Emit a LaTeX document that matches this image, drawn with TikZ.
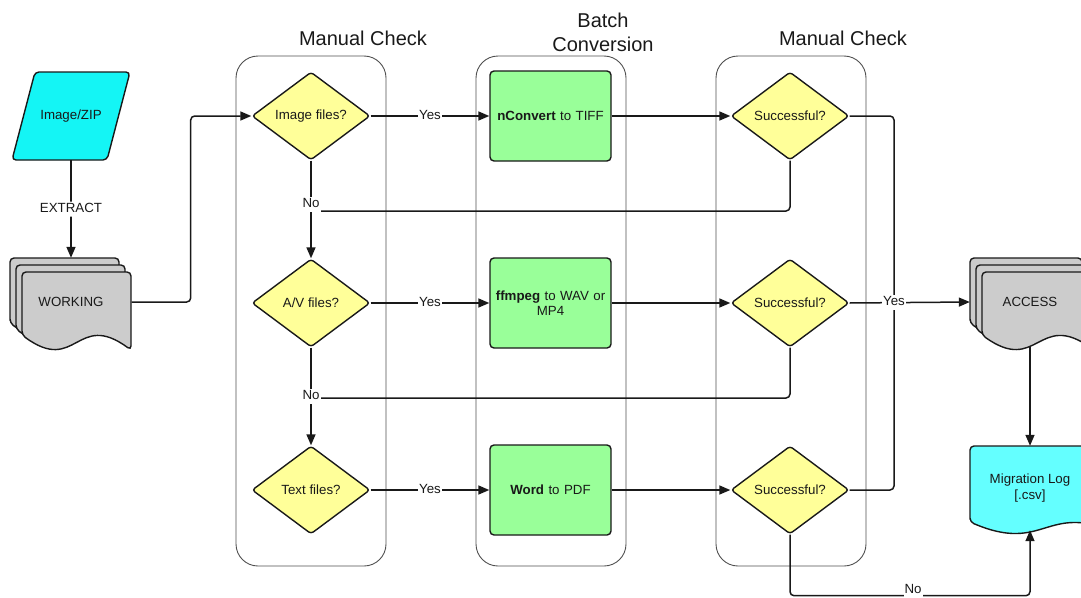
\documentclass[tikz,border=0pt]{standalone}
\usepackage{fontspec}
\setmainfont{Liberation Sans}
\usetikzlibrary{arrows.meta,shapes.geometric}
\definecolor{cyanA}{RGB}{20,245,245}
\definecolor{cyanB}{RGB}{100,255,255}
\definecolor{yel}{RGB}{255,255,153}
\definecolor{grn}{RGB}{153,255,153}
\definecolor{docgray}{RGB}{204,204,204}
\definecolor{lanegray}{RGB}{80,80,80}
\definecolor{ink}{RGB}{25,25,25}
% #1 x0, #2 y0, #3 width, #4 bottom-left y, #5 fill, #6 wave amplitude
\newcommand\docpage[6]{%
  \filldraw[shapeline, fill=#5] (#1,#4) -- (#1,#2) -- ({#1+#3},#2) -- ({#1+#3},{#4+#6})
    .. controls ({#1+0.5*#3},{#4-1.67*#6}) and ({#1+0.5*#3},{#4+2.67*#6}) .. (#1,#4) -- cycle;}
\begin{document}
\begin{tikzpicture}[x=1pt,y=-1pt, font=\fontsize{13.3}{15.5}\selectfont, text=ink,
  shapeline/.style={draw=ink, line width=1.4pt, rounded corners=4pt},
  dec/.style={shape=diamond, draw=ink, line width=1.4pt, fill=yel, minimum width=118pt,
    minimum height=88pt, inner sep=0pt, rounded corners=3pt},
  proc/.style={draw=ink, line width=1.4pt, fill=grn, minimum width=121pt, minimum height=90pt,
    rounded corners=4pt, align=center, text width=112pt},
  lane/.style={draw=lanegray, line width=0.9pt, rounded corners=22pt,
    minimum width=150pt, minimum height=510pt},
  title/.style={font=\fontsize{20}{24}\selectfont, align=center},
  holder/.style={inner sep=0pt, align=center},
  conn/.style={draw=ink, line width=1.5pt, rounded corners=4pt},
  arr/.style={conn, -{Triangle[length=11pt,width=9pt]}},
  lbl/.style={fill=white, inner sep=1pt, text height=10pt, text depth=3pt}]

\useasboundingbox (0,0) rectangle (1081,597);
\clip (0,0) rectangle (1081,597);

% lanes
\node[lane] (lane1) at (311,311) {};
\node[lane] (lane2) at (551,311) {};
\node[lane] (lane3) at (791,311) {};
\node[title] (t1) at (363,38) {Manual Check};
\node[title] (t2) at (603,32) {Batch\\Conversion};
\node[title] (t3) at (843,38) {Manual Check};

% input parallelogram
\filldraw[shapeline, fill=cyanA] (35,72) -- (130,72) -- (107,160) -- (12,160) -- cycle;
\node[holder, minimum width=60pt, minimum height=88pt] (img) at (71,116) {Image/ZIP};

% WORKING stack
\docpage{10}{258}{109}{323}{docgray}{15}
\docpage{16}{265}{109}{329}{docgray}{15}
\docpage{22}{272}{109}{335}{docgray}{15}
\node[holder, minimum width=121pt, minimum height=88pt] (working) at (71,302) {WORKING};

% ACCESS stack
\docpage{970}{258}{112}{323}{docgray}{15}
\docpage{976}{265}{112}{329}{docgray}{15}
\docpage{982}{272}{112}{335}{docgray}{15}
\node[holder, minimum width=120pt, minimum height=88pt] (access) at (1030,302) {ACCESS};

% Migration log
\docpage{970}{446}{150}{522}{cyanB}{12}
\node[holder, minimum width=120pt, minimum height=84pt] (mlog) at (1030,488) {Migration Log\\{}[.csv]};

% decisions
\node[dec] (q1) at (311,116) {Image files?};
\node[dec] (q2) at (311,303) {A/V files?};
\node[dec] (q3) at (311,490) {Text files?};
\node[dec] (s1) at (790,116) {Successful?};
\node[dec] (s2) at (790,303) {Successful?};
\node[dec] (s3) at (790,490) {Successful?};

% processes
\node[proc] (p1) at (550.5,116) {\textbf{nConvert} to TIFF};
\node[proc] (p2) at (550.5,303) {\textbf{ffmpeg} to WAV or\\MP4};
\node[proc] (p3) at (550.5,490) {\textbf{Word} to PDF};

% connectors
\draw[arr] (img.south) -- node[lbl] (ext) {EXTRACT} (working.north);
\draw[arr] (working.east) -- ++(59,0) |- (q1.west);

\draw[arr] (q1.east) -- node[lbl] (y1) {Yes} (p1.west);
\draw[arr] (q2.east) -- node[lbl] (y2) {Yes} (p2.west);
\draw[arr] (q3.east) -- node[lbl] (y3) {Yes} (p3.west);
\draw[arr] (p1.east) -- (s1.west);
\draw[arr] (p2.east) -- (s2.west);
\draw[arr] (p3.east) -- (s3.west);

\coordinate (n1) at (311,211);
\coordinate (n2) at (311,398);
\draw[conn] (q1.south) -- (n1);
\draw[conn] (s1.south) |- (n1);
\draw[arr] (n1) -- (q2.north);
\draw[conn] (q2.south) -- (n2);
\draw[conn] (s2.south) |- (n2);
\draw[arr] (n2) -- (q3.north);
\node[lbl] (no1) at (311,204) {No};
\node[lbl] (no2) at (311,396) {No};

\coordinate (jy) at (894,302);
\draw[conn] (s1.east) -| (jy);
\draw[conn] (s3.east) -| (jy);
\draw[arr] (s2.east) -- (access.west);
\node[lbl] (y4) at (jy) {Yes};

\draw[arr] (access.south) -- (mlog.north);
\draw[arr] (s3.south) -- ++(0,61) -| (mlog.south);
\node[lbl, text depth=2pt] (no3) at (913,589.5) {No};
\end{tikzpicture}
\end{document}
